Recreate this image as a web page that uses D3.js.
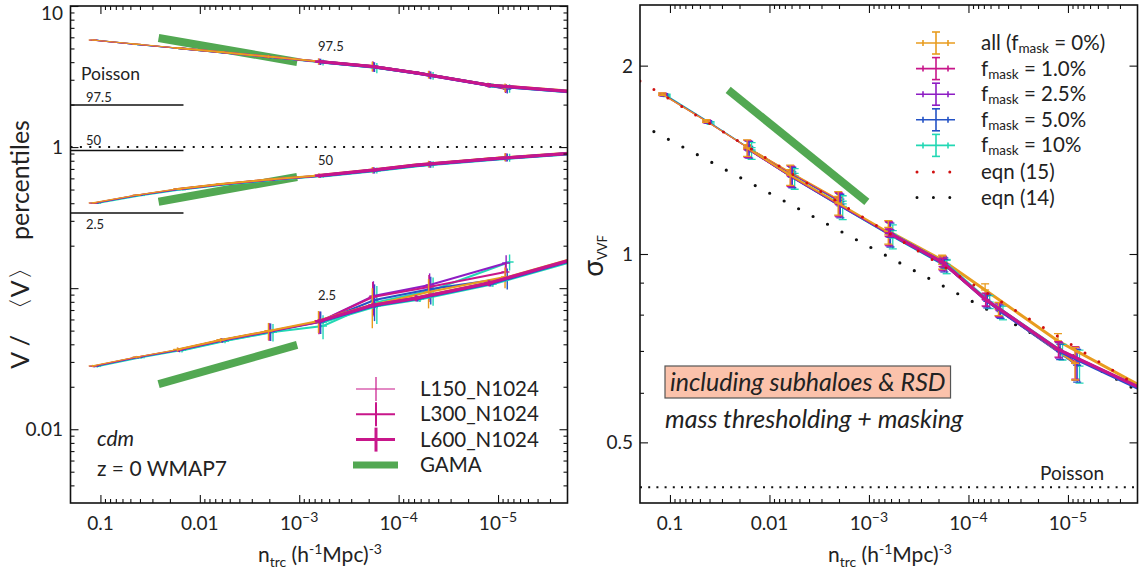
<!DOCTYPE html>
<html>
<head>
<meta charset="utf-8">
<script src="https://cdn.jsdelivr.net/npm/d3@7"></script>
<style>
  body { margin: 0; background: #fff; }
  svg text { font-family: Lato, "Open Sans", sans-serif; fill: #222; }
</style>
</head>
<body>
<svg id="chart" width="1139" height="574"></svg>
<script>
// ---------------------------------------------------------------
// Data
// ---------------------------------------------------------------
const maskFractions = [0, 0.01, 0.025, 0.05, 0.10];
const maskColors = ["#e89c1f", "#c8168a", "#8e1dc4", "#2453c6", "#22d8b4"];
const maskLegend = ["0%", "1.0%", "2.5%", "5.0%", "10%"];
const simNames = ["L150_N1024", "L300_N1024", "L600_N1024"];
const simWidths = [1.2, 2, 3];

// tracer number densities (h^-1 Mpc)^-3 of the mass thresholds, before masking
const nL150 = [0.12, 0.0434, 0.0168, 0.0062, 0.00204];
const nL300 = [0.0168, 0.0062, 0.00204, 6.4e-4, 1.84e-4, 5.0e-5, 8.5e-6];
const nL600 = [6.4e-4, 1.84e-4, 6.8e-5, 1.26e-5, 1.5e-6];

// V/<V> percentiles; rows follow maskFractions
const p975L150 = [
  [5.74, 5.36, 5.04, 4.72, 4.38],
  [5.73, 5.35, 5.03, 4.71, 4.37],
  [5.73, 5.34, 5.02, 4.70, 4.36],
  [5.72, 5.33, 5.01, 4.69, 4.35],
  [5.70, 5.31, 4.99, 4.67, 4.33]];
const p975L300 = [
  [5.04, 4.72, 4.38, 4.05, 3.73, 3.26, 2.64],
  [5.03, 4.71, 4.37, 4.04, 3.75, 3.27, 2.60],
  [5.02, 4.70, 4.36, 4.03, 3.72, 3.25, 2.62],
  [5.01, 4.69, 4.35, 4.02, 3.70, 3.23, 2.58],
  [4.99, 4.67, 4.33, 3.98, 3.64, 3.20, 2.61]];
const p975L600 = [
  [4.05, 3.73, 3.37, 2.76, 2.46],
  [4.04, 3.72, 3.36, 2.75, 2.45],
  [4.03, 3.71, 3.35, 2.74, 2.44],
  [4.02, 3.70, 3.34, 2.73, 2.43],
  [4.00, 3.68, 3.33, 2.72, 2.42]];

const p50L150 = [
  [0.402, 0.457, 0.505, 0.547, 0.589],
  [0.401, 0.456, 0.504, 0.546, 0.588],
  [0.401, 0.456, 0.503, 0.545, 0.587],
  [0.400, 0.455, 0.502, 0.544, 0.586],
  [0.399, 0.453, 0.500, 0.542, 0.584]];
const p50L300 = [
  [0.505, 0.547, 0.589, 0.629, 0.688, 0.759, 0.850],
  [0.504, 0.546, 0.588, 0.627, 0.686, 0.757, 0.848],
  [0.503, 0.545, 0.587, 0.626, 0.685, 0.756, 0.846],
  [0.502, 0.544, 0.586, 0.625, 0.684, 0.755, 0.844],
  [0.500, 0.542, 0.584, 0.623, 0.683, 0.754, 0.842]];
const p50L600 = [
  [0.629, 0.688, 0.746, 0.823, 0.915],
  [0.628, 0.687, 0.745, 0.822, 0.914],
  [0.627, 0.686, 0.744, 0.821, 0.913],
  [0.626, 0.685, 0.743, 0.820, 0.912],
  [0.624, 0.683, 0.741, 0.818, 0.910]];

const p025L150 = [
  [0.0281, 0.0325, 0.0367, 0.0429, 0.0497],
  [0.0280, 0.0324, 0.0366, 0.0428, 0.0495],
  [0.0280, 0.0324, 0.0365, 0.0427, 0.0494],
  [0.0279, 0.0323, 0.0364, 0.0425, 0.0492],
  [0.0278, 0.0321, 0.0362, 0.0422, 0.0488]];
const p025L300 = [
  [0.0367, 0.0429, 0.0497, 0.0585, 0.0760, 0.0939, 0.1200],
  [0.0366, 0.0428, 0.0495, 0.0575, 0.0866, 0.1019, 0.1302],
  [0.0365, 0.0427, 0.0494, 0.0580, 0.0880, 0.1053, 0.1508],
  [0.0364, 0.0425, 0.0492, 0.0578, 0.0824, 0.0986, 0.1180],
  [0.0362, 0.0422, 0.0488, 0.0539, 0.0796, 0.0970, 0.1532]];
const p025L600 = [
  [0.0585, 0.0760, 0.0851, 0.1088, 0.1663],
  [0.0584, 0.0758, 0.0849, 0.1085, 0.1660],
  [0.0583, 0.0756, 0.0847, 0.1082, 0.1655],
  [0.0581, 0.0753, 0.0843, 0.1077, 0.1648],
  [0.0578, 0.0749, 0.0839, 0.1072, 0.1640]];

// scatter between realisations of each percentile
const err975 = [[0.03, 0.03, 0.04, 0.05, 0.06],
                [0.05, 0.06, 0.10, 0.20, 0.30, 0.20, 0.18],
                [0.06, 0.08, 0.08, 0.10, 0.10]];
const err50  = [[0.002, 0.003, 0.003, 0.004, 0.005],
                [0.004, 0.005, 0.008, 0.020, 0.034, 0.040, 0.055],
                [0.008, 0.010, 0.012, 0.015, 0.015]];
const err025 = [[0.0005, 0.0006, 0.0008, 0.0010, 0.0015],
                [0.0012, 0.0015, 0.007, 0.0104, 0.024, 0.022, 0.020],
                [0.002, 0.003, 0.004, 0.005, 0.006]];

// sigma of the VVF; rows follow maskFractions
const sigmaL150 = [
  [1.801, 1.632, 1.483, 1.352, 1.224],
  [1.799, 1.630, 1.480, 1.348, 1.220],
  [1.798, 1.628, 1.478, 1.345, 1.217],
  [1.796, 1.625, 1.474, 1.341, 1.212],
  [1.792, 1.620, 1.467, 1.333, 1.203]];
const sigmaL300 = [
  [1.477, 1.337, 1.206, 1.084, 0.971, 0.817, 0.669],
  [1.474, 1.333, 1.202, 1.080, 0.968, 0.815, 0.671],
  [1.471, 1.330, 1.198, 1.077, 0.965, 0.812, 0.668],
  [1.468, 1.326, 1.194, 1.073, 0.961, 0.809, 0.664],
  [1.462, 1.319, 1.187, 1.066, 0.955, 0.805, 0.662]];
const sigmaL600 = [
  [1.088, 0.978, 0.876, 0.726, 0.604],
  [1.082, 0.970, 0.846, 0.704, 0.601],
  [1.080, 0.968, 0.844, 0.702, 0.599],
  [1.078, 0.965, 0.840, 0.698, 0.595],
  [1.075, 0.962, 0.838, 0.697, 0.596]];
const errSigma = [[0.008, 0.008, 0.012, 0.012, 0.012],
                  [0.045, 0.050, 0.052, 0.047, 0.025, 0.020, 0.040],
                  [0.015, 0.015, 0.020, 0.020, 0.020]];

// GAMA measurements
const gamaN = [0.026, 0.00105];
const gamaP975 = [5.93, 4.01];
const gamaP50 = [0.410, 0.614];
const gamaP025 = [0.0209, 0.0396];
const gamaSigma = [1.829, 1.211];

// model curves
const eqn15N = [0.2, 0.01, 1e-3, 1e-4, 1e-5, 2e-6];
const eqn15Sigma = [1.890, 1.413, 1.129, 0.903, 0.722, 0.616];
const eqn14N = [0.145, 0.01, 1e-3, 1e-4, 1e-5, 2e-6];
const eqn14Sigma = [1.569, 1.251, 1.028, 0.846, 0.695, 0.605];

// Poisson expectations
const poissonLabels = ["97.5", "50", "2.5"];
const poissonPercentiles = [1.988, 0.946, 0.341];
const poissonSpanN = [0.2, 0.0146];
const meanRatio = 1;
const poissonSigma = 0.424;

// axis ticks
const xMajor = [0.1, 0.01, 1e-3, 1e-4, 1e-5];
const xMajorLabels = ["0.1", "0.01", "10^-3", "10^-4", "10^-5"];
const yLeftMajor = [0.01, 0.1, 1, 10];
const yLeftLabels = ["0.01", "", "1", "10"];
const yRightMajor = [0.5, 1, 2];
const yRightLabels = ["0.5", "1", "2"];
const yRightMinor = [0.6, 0.7, 0.8, 0.9];

// ---------------------------------------------------------------
// Layout and scales
// ---------------------------------------------------------------
const svg = d3.select("#chart");
const L = {x0: 70.5, x1: 567.5, y0: 6, y1: 503};
const R = {x0: 640, x1: 1137.5, y0: 5, y1: 503};

const xL = d3.scaleLog().domain([0.2, 2e-6]).range([L.x0, L.x1]);
const yL = d3.scaleLog().domain([0.003, 10]).range([L.y1, L.y0]);
const xR = d3.scaleLog().domain([0.2, 2e-6]).range([R.x0, R.x1]);
const yR = d3.scaleLog().domain([0.4, 2.5]).range([R.y1, R.y0]);

function logMinor(lo, hi) {
  const out = [];
  for (let k = -7; k <= 1; k++) {
    for (let m = 2; m <= 9; m++) {
      const v = m * Math.pow(10, k);
      if (v > lo * 1.0001 && v < hi * 0.9999) out.push(v);
    }
  }
  return out;
}
const xMinor = logMinor(2e-6, 0.2);

const defs = svg.append("defs");
function clip(id, f) {
  defs.append("clipPath").attr("id", id).append("rect")
    .attr("x", f.x0).attr("y", f.y0).attr("width", f.x1 - f.x0).attr("height", f.y1 - f.y0);
}
clip("clipL", L);
clip("clipR", R);

function ticks(g, f, x, y, xMaj, xMin, yMaj, yMin) {
  const style = s => { s.select(".domain").remove(); s.selectAll("line").attr("stroke", "#111").attr("stroke-width", 1.1); s.selectAll("text").remove(); };
  g.append("g").attr("transform", `translate(0,${f.y1})`).call(d3.axisBottom(x).tickValues(xMaj).tickSize(-8).tickFormat("")).call(style);
  g.append("g").attr("transform", `translate(0,${f.y1})`).call(d3.axisBottom(x).tickValues(xMin).tickSize(-4).tickFormat("")).call(style);
  g.append("g").attr("transform", `translate(0,${f.y0})`).call(d3.axisTop(x).tickValues(xMaj).tickSize(-8).tickFormat("")).call(style);
  g.append("g").attr("transform", `translate(0,${f.y0})`).call(d3.axisTop(x).tickValues(xMin).tickSize(-4).tickFormat("")).call(style);
  g.append("g").attr("transform", `translate(${f.x0},0)`).call(d3.axisLeft(y).tickValues(yMaj).tickSize(-8).tickFormat("")).call(style);
  g.append("g").attr("transform", `translate(${f.x0},0)`).call(d3.axisLeft(y).tickValues(yMin).tickSize(-4).tickFormat("")).call(style);
  g.append("g").attr("transform", `translate(${f.x1},0)`).call(d3.axisRight(y).tickValues(yMaj).tickSize(-8).tickFormat("")).call(style);
  g.append("g").attr("transform", `translate(${f.x1},0)`).call(d3.axisRight(y).tickValues(yMin).tickSize(-4).tickFormat("")).call(style);
  g.append("rect").attr("x", f.x0).attr("y", f.y0).attr("width", f.x1 - f.x0).attr("height", f.y1 - f.y0)
    .attr("fill", "none").attr("stroke", "#111").attr("stroke-width", 1.6);
}

function xTickLabels(g, x, ybase) {
  xMajor.forEach((v, i) => {
    const lab = xMajorLabels[i];
    const t = g.append("text").attr("x", x(v)).attr("y", ybase).attr("text-anchor", "middle").attr("font-size", 19);
    if (lab.includes("^")) {
      const [b, e] = lab.split("^");
      t.append("tspan").text(b);
      t.append("tspan").attr("dy", -8).attr("font-size", 14).text(e.replace("-", "\u2212"));
    } else t.text(lab);
  });
}

function xTitle(g, cx, ybase) {
  const t = g.append("text").attr("x", cx).attr("y", ybase).attr("text-anchor", "middle").attr("font-size", 21);
  t.append("tspan").text("n");
  t.append("tspan").attr("dy", 5).attr("font-size", 14).text("trc");
  t.append("tspan").attr("dy", -5).text(" (h");
  t.append("tspan").attr("dy", -8).attr("font-size", 14).text("-1");
  t.append("tspan").attr("dy", 8).text("Mpc)");
  t.append("tspan").attr("dy", -8).attr("font-size", 14).text("-3");
}

// every simulation / mask combination as a polyline with error bars
function bundle(g, x, y, sims, errs, capped, drawOrders) {
  const dens = [nL150, nL300, nL600];
  sims.forEach((rows, s) => {
    drawOrders[s].forEach(m => {
      const pts = dens[s].map((n, i) => ({n: n * (1 - maskFractions[m]), v: rows[m][i], e: errs[s][i]}));
      g.append("path").datum(pts)
        .attr("d", d3.line().x(d => x(d.n)).y(d => y(d.v)))
        .attr("fill", "none").attr("stroke", maskColors[m]).attr("stroke-width", simWidths[s]);
      pts.forEach(d => {
        const px = x(d.n), yt = y(d.v + d.e), yb = y(Math.max(d.v - d.e, 1e-4));
        const w = capped ? 1.3 : Math.max(1, simWidths[s] * 0.7);
        g.append("line").attr("x1", px).attr("x2", px).attr("y1", yt).attr("y2", yb)
          .attr("stroke", maskColors[m]).attr("stroke-width", w);
        g.append("line").attr("x1", px - 4).attr("x2", px + 4).attr("y1", y(d.v)).attr("y2", y(d.v))
          .attr("stroke", maskColors[m]).attr("stroke-width", w);
        if (capped) {
          [yt, yb].forEach(yy => g.append("line").attr("x1", px - 4).attr("x2", px + 4).attr("y1", yy).attr("y2", yy)
            .attr("stroke", maskColors[m]).attr("stroke-width", 1.3));
        }
      });
    });
  });
}
const orders = [[4, 3, 2, 1, 0], [4, 3, 2, 1, 0], [0, 4, 3, 2, 1]];

// ---------------------------------------------------------------
// Left panel: percentiles of V/<V>
// ---------------------------------------------------------------
const gl = svg.append("g");
const glc = gl.append("g").attr("clip-path", "url(#clipL)");

// Poisson reference levels
poissonPercentiles.forEach(v => {
  glc.append("line").attr("x1", xL(poissonSpanN[0])).attr("x2", xL(poissonSpanN[1]))
    .attr("y1", yL(v)).attr("y2", yL(v)).attr("stroke", "#111").attr("stroke-width", 1.4);
});
glc.append("line").attr("x1", L.x0).attr("x2", L.x1).attr("y1", yL(meanRatio)).attr("y2", yL(meanRatio))
  .attr("stroke", "#111").attr("stroke-width", 2).attr("stroke-dasharray", "2 7.4");

[gamaP975, gamaP50, gamaP025].forEach(arr => {
  glc.append("path").datum(gamaN.map((n, i) => [n, arr[i]]))
    .attr("d", d3.line().x(d => xL(d[0])).y(d => yL(d[1])))
    .attr("stroke", "#52a852").attr("stroke-width", 8).attr("fill", "none");
});

bundle(glc, xL, yL, [p975L150, p975L300, p975L600], err975, false, orders);
bundle(glc, xL, yL, [p50L150, p50L300, p50L600], err50, false, orders);
bundle(glc, xL, yL, [p025L150, p025L300, p025L600], err025, false, orders);

ticks(gl, L, xL, yL, xMajor, xMinor, yLeftMajor, logMinor(0.003, 10));
xTickLabels(gl, xL, 530);
xTitle(gl, 320, 562);

yLeftMajor.forEach((v, i) => {
  if (!yLeftLabels[i]) return;
  const yy = v === 10 ? 20 : yL(v) + 7;
  gl.append("text").attr("x", 63).attr("y", yy).attr("text-anchor", "end").attr("font-size", 19).text(yLeftLabels[i]);
});

gl.append("text").attr("transform", "translate(29,312) rotate(-90)").attr("text-anchor", "middle")
  .attr("font-size", 25).attr("xml:space", "preserve").text("V /  \u3008V\u3009");
gl.append("text").attr("transform", "translate(29,180) rotate(-90)").attr("text-anchor", "middle")
  .attr("font-size", 25).text("percentiles");

// Poisson annotations
gl.append("text").attr("x", 81).attr("y", 80).attr("font-size", 17.5).text("Poisson");
const smallLab = (x, y, t) => gl.append("text").attr("x", x).attr("y", y)
  .attr("font-family", "'Liberation Serif', serif").attr("font-size", 13).text(t);
smallLab(86, 102, poissonLabels[0]);
smallLab(86, 145, poissonLabels[1]);
smallLab(86, 229, poissonLabels[2]);
smallLab(318, 51, "97.5");
smallLab(318, 165, "50");
smallLab(318, 300, "2.5");

gl.append("text").attr("x", 97).attr("y", 446).attr("font-size", 21).attr("font-style", "italic").text("cdm");
gl.append("text").attr("x", 97).attr("y", 476).attr("font-size", 21).text("z = 0 WMAP7");

// legend of simulation boxes
const legL = gl.append("g");
simNames.forEach((name, i) => {
  const cy = 389 + i * 25.3;
  legL.append("line").attr("x1", 356).attr("x2", 395).attr("y1", cy).attr("y2", cy)
    .attr("stroke", maskColors[1]).attr("stroke-width", simWidths[i]);
  legL.append("line").attr("x1", 376).attr("x2", 376).attr("y1", cy - 12).attr("y2", cy + 12)
    .attr("stroke", maskColors[1]).attr("stroke-width", simWidths[i]);
  legL.append("text").attr("x", 420).attr("y", cy + 7).attr("font-size", 20.5).text(name);
});
legL.append("line").attr("x1", 353).attr("x2", 398).attr("y1", 465).attr("y2", 465)
  .attr("stroke", "#52a852").attr("stroke-width", 7);
legL.append("text").attr("x", 420).attr("y", 472).attr("font-size", 20.5).text("GAMA");

// ---------------------------------------------------------------
// Right panel: sigma of the VVF
// ---------------------------------------------------------------
const gr = svg.append("g");
const grc = gr.append("g").attr("clip-path", "url(#clipR)");

grc.append("line").attr("x1", R.x0).attr("x2", R.x1).attr("y1", yR(poissonSigma)).attr("y2", yR(poissonSigma))
  .attr("stroke", "#111").attr("stroke-width", 2).attr("stroke-dasharray", "2 6.2");

grc.append("path").datum(gamaN.map((n, i) => [n, gamaSigma[i]]))
  .attr("d", d3.line().x(d => xR(d[0])).y(d => yR(d[1])))
  .attr("stroke", "#52a852").attr("stroke-width", 8).attr("fill", "none");

grc.append("path").datum(eqn14N.map((n, i) => [n, eqn14Sigma[i]]))
  .attr("d", d3.line().x(d => xR(d[0])).y(d => yR(d[1])))
  .attr("fill", "none").attr("stroke", "#111").attr("stroke-width", 3.2)
  .attr("stroke-linecap", "round").attr("stroke-dasharray", "0 16.4");

bundle(grc, xR, yR, [sigmaL150, sigmaL300, sigmaL600], errSigma, true, orders);

grc.append("path").datum(eqn15N.map((n, i) => [n, eqn15Sigma[i]]))
  .attr("d", d3.line().x(d => xR(d[0])).y(d => yR(d[1])))
  .attr("fill", "none").attr("stroke", "#d01010").attr("stroke-width", 3)
  .attr("stroke-linecap", "round").attr("stroke-dasharray", "0 16.3");

ticks(gr, R, xR, yR, xMajor, xMinor, yRightMajor, yRightMinor);
xTickLabels(gr, xR, 530);
xTitle(gr, 890, 562);

yRightMajor.forEach((v, i) => {
  gr.append("text").attr("x", 633).attr("y", yR(v) + 7).attr("text-anchor", "end").attr("font-size", 19).text(yRightLabels[i]);
});

const sig = gr.append("text").attr("transform", "translate(603,256) rotate(-90)").attr("text-anchor", "middle");
sig.append("tspan").attr("font-size", 28).text("\u03c3");
sig.append("tspan").attr("font-size", 13).attr("dy", 4).text("VVF");

gr.append("text").attr("x", 1040).attr("y", 480).attr("font-size", 19).text("Poisson");

// annotation box
const noteText = gr.append("text").attr("x", 670).attr("y", 391).attr("font-size", 25)
  .attr("font-style", "italic").text("including subhaloes & RSD");
const bb = noteText.node().getBBox();
gr.insert("rect", () => noteText.node())
  .attr("x", 665).attr("y", 366).attr("width", bb.x + bb.width - 665 + 5).attr("height", 32)
  .attr("fill", "#fbc2ab").attr("stroke", "#555").attr("stroke-width", 1.2);
gr.append("text").attr("x", 665).attr("y", 428).attr("font-size", 25)
  .attr("font-style", "italic").text("mass thresholding + masking");

// legend of mask fractions and model curves
const legR = gr.append("g");
maskColors.forEach((c, i) => {
  const cy = 43 + i * 25.6;
  const s = legR.append("g").attr("stroke", c).attr("stroke-width", 1.6);
  s.append("line").attr("x1", 916).attr("x2", 955).attr("y1", cy).attr("y2", cy);
  s.append("line").attr("x1", 936).attr("x2", 936).attr("y1", cy - 11).attr("y2", cy + 11);
  s.append("line").attr("x1", 932).attr("x2", 940).attr("y1", cy - 11).attr("y2", cy - 11);
  s.append("line").attr("x1", 932).attr("x2", 940).attr("y1", cy + 11).attr("y2", cy + 11);
  s.append("line").attr("x1", 923).attr("x2", 923).attr("y1", cy - 3).attr("y2", cy + 3);
  s.append("line").attr("x1", 948).attr("x2", 948).attr("y1", cy - 3).attr("y2", cy + 3);
  const t = legR.append("text").attr("x", 981).attr("y", cy + 7).attr("font-size", 20.5);
  if (i === 0) {
    t.append("tspan").text("all (f");
    t.append("tspan").attr("dy", 3).attr("font-size", 13.5).text("mask");
    t.append("tspan").attr("dy", -3).text(" = " + maskLegend[i] + ")");
  } else {
    t.append("tspan").text("f");
    t.append("tspan").attr("dy", 3).attr("font-size", 13.5).text("mask");
    t.append("tspan").attr("dy", -3).text(" = " + maskLegend[i]);
  }
});
[["#d01010", "eqn (15)"], ["#111", "eqn (14)"]].forEach(([c, lab], i) => {
  const cy = 172 + i * 25.5;
  legR.append("line").attr("x1", 917).attr("x2", 955).attr("y1", cy).attr("y2", cy)
    .attr("stroke", c).attr("stroke-width", 3).attr("stroke-linecap", "round").attr("stroke-dasharray", "0 16.4");
  legR.append("text").attr("x", 981).attr("y", cy + 7).attr("font-size", 20.5).text(lab);
});
</script>
</body>
</html>
